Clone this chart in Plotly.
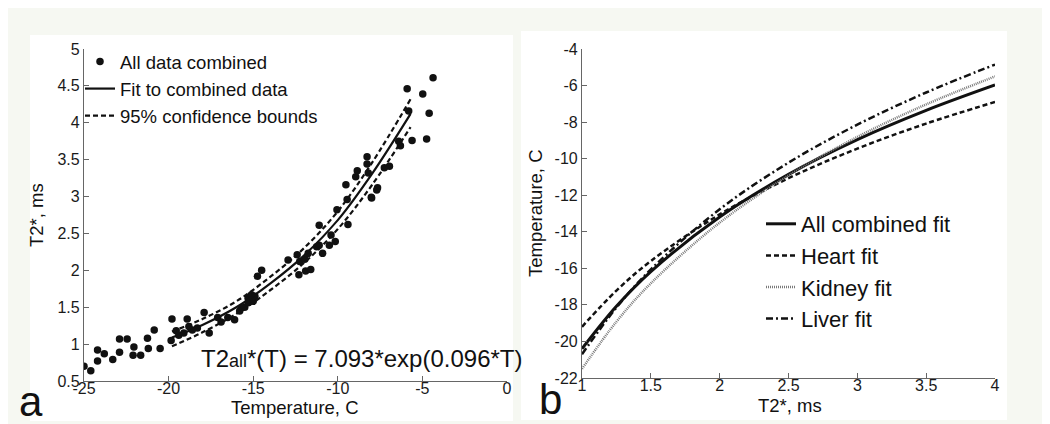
import plotly.graph_objects as go

# ---------------- data: panel a ----------------
temp_pts = [-25.0, -24.6, -24.2, -24.2, -23.8, -23.3, -22.9, -22.9, -22.45, -22.05,
            -22.1, -21.65, -21.25, -21.2, -20.85, -20.5,
            -19.8, -19.85, -19.55, -19.4, -19.1, -18.9, -18.8, -18.6, -18.3, -17.9,
            -17.6, -17.1, -16.9, -16.5, -16.1, -15.8, -15.7, -15.5, -15.3, -15.3,
            -15.1, -15.0, -14.9, -14.75, -14.5,
            -12.94, -12.4, -12.3, -12.25, -11.95, -11.9, -11.6, -11.75, -11.25, -11.1,
            -10.9, -10.5, -10.15, -10.4, -11.1, -9.4, -10.05, -9.45, -8.0, -7.7,
            -9.52, -8.94, -8.85, -8.27, -8.27, -8.2, -7.65, -8.02, -6.95, -7.25,
            -6.3, -6.4, -5.81, -5.9, -4.98, -4.37, -4.6, -5.61, -4.75]
t2_pts = [0.70, 0.64, 0.92, 0.77, 0.87, 0.79, 1.07, 0.89, 1.07, 0.96,
          0.85, 0.85, 1.08, 0.94, 1.19, 0.94,
          1.34, 1.05, 1.18, 1.12, 1.15, 1.34, 1.24, 1.19, 1.22, 1.43,
          1.15, 1.36, 1.30, 1.36, 1.33, 1.45, 1.49, 1.50, 1.62, 1.56,
          1.67, 1.58, 1.65, 1.92, 2.00,
          2.14, 2.21, 1.94, 2.12, 2.15, 1.99, 2.01, 2.23, 2.32, 2.34,
          2.23, 2.34, 2.39, 2.48, 2.61, 2.62, 2.82, 2.96, 2.98, 3.09,
          3.16, 3.27, 3.35, 3.54, 3.44, 3.32, 3.12, 2.99, 3.41, 3.39,
          3.69, 3.75, 4.16, 4.46, 4.39, 4.61, 4.13, 3.76, 3.78]

temp_fit = [-19.8, -18.0, -16.0, -14.0, -12.0, -10.0, -8.0, -5.7]
t2_fit = [1.09, 1.26, 1.50, 1.82, 2.20, 2.68, 3.30, 4.12]
t2_upper = [1.17, 1.34, 1.58, 1.91, 2.30, 2.80, 3.45, 4.32]
t2_lower = [0.97, 1.16, 1.41, 1.73, 2.10, 2.56, 3.15, 3.94]

x_ticks_a = [-25, -20, -15, -10, -5, 0]
x_ticklabels_a = ["-25", "-20", "-15", "-10", "-5", "0"]
y_ticks_a = [0.5, 1, 1.5, 2, 2.5, 3, 3.5, 4, 4.5, 5]
y_ticklabels_a = ["0.5", "1", "1.5", "2", "2.5", "3", "3.5", "4", "4.5", "5"]

# ---------------- data: panel b ----------------
t2_axis = [1.0, 1.25, 1.5, 2.0, 2.5, 3.0, 3.5, 4.0]
temp_all = [-20.4, -18.08, -16.18, -13.19, -10.86, -8.96, -7.36, -5.97]
temp_heart = [-19.2, -17.22, -15.6, -13.05, -11.07, -9.45, -8.08, -6.9]
temp_kidney = [-21.5, -18.92, -16.82, -13.5, -10.92, -8.81, -7.03, -5.5]
temp_liver = [-20.7, -18.15, -16.06, -12.77, -10.22, -8.14, -6.38, -4.85]

x_ticks_b = [1, 1.5, 2, 2.5, 3, 3.5, 4]
x_ticklabels_b = ["1", "1.5", "2", "2.5", "3", "3.5", "4"]
y_ticks_b = [-22, -20, -18, -16, -14, -12, -10, -8, -6, -4]
y_ticklabels_b = ["-22", "-20", "-18", "-16", "-14", "-12", "-10", "-8", "-6", "-4"]

# ---------------- layout helpers ----------------
W, H = 1050, 424
FONT = "Liberation Sans, Arial, sans-serif"


def px(x):
    return x / W


def py(y):
    return 1 - y / H


fig = go.Figure()

# panel a traces
fig.add_trace(go.Scatter(x=temp_pts, y=t2_pts, mode="markers", name="All data combined",
                         marker=dict(color="#111111", size=7.5), xaxis="x", yaxis="y",
                         legend="legend"))
fig.add_trace(go.Scatter(x=temp_fit, y=t2_fit, mode="lines", name="Fit to combined data",
                         line=dict(color="#111111", width=2.2, shape="spline"),
                         xaxis="x", yaxis="y", legend="legend"))
fig.add_trace(go.Scatter(x=temp_fit, y=t2_upper, mode="lines", name="95% confidence bounds",
                         line=dict(color="#111111", width=2.2, dash="5px,3px", shape="spline"),
                         xaxis="x", yaxis="y", legend="legend"))
fig.add_trace(go.Scatter(x=temp_fit, y=t2_lower, mode="lines", name="95% confidence bounds",
                         line=dict(color="#111111", width=2.2, dash="5px,3px", shape="spline"),
                         xaxis="x", yaxis="y", showlegend=False))

# panel b traces
fig.add_trace(go.Scatter(x=t2_axis, y=temp_all, mode="lines", name="All combined fit",
                         line=dict(color="#111111", width=3, shape="spline"),
                         xaxis="x2", yaxis="y2", legend="legend2"))
fig.add_trace(go.Scatter(x=t2_axis, y=temp_heart, mode="lines", name="Heart fit",
                         line=dict(color="#111111", width=2.5, dash="5px,3px", shape="spline"),
                         xaxis="x2", yaxis="y2", legend="legend2"))
fig.add_trace(go.Scatter(x=t2_axis, y=temp_kidney, mode="lines", name="Kidney fit",
                         line=dict(color="#7a7a7a", width=2.5, dash="1px,1px", shape="spline"),
                         xaxis="x2", yaxis="y2", legend="legend2"))
fig.add_trace(go.Scatter(x=t2_axis, y=temp_liver, mode="lines", name="Liver fit",
                         line=dict(color="#111111", width=2.5, dash="7px,3px,2px,3px", shape="spline"),
                         xaxis="x2", yaxis="y2", legend="legend2"))

axis_common = dict(showline=True, linecolor="#666666", linewidth=1.2, ticks="inside",
                   ticklen=5, tickcolor="#666666", showgrid=False, zeroline=False,
                   mirror=False, automargin=False,
                   tickfont=dict(family=FONT, size=16, color="#1a1a1a"))

fig.update_layout(
    width=W, height=H,
    margin=dict(l=0, r=0, t=0, b=0, autoexpand=False),
    paper_bgcolor="#f6f8f2", plot_bgcolor="rgba(0,0,0,0)",
    font=dict(family=FONT, color="#111111"),
    xaxis=dict(domain=[px(76), px(499)], range=[-25, 0], tickvals=x_ticks_a,
               ticktext=x_ticklabels_a, anchor="y", ticklabelstandoff=-7, **axis_common),
    yaxis=dict(domain=[py(373), py(41)], range=[0.5, 5], tickvals=y_ticks_a,
               ticktext=y_ticklabels_a, anchor="x", **axis_common),
    xaxis2=dict(domain=[px(574), px(987)], range=[1, 4], tickvals=x_ticks_b,
                ticktext=x_ticklabels_b, anchor="y2", ticklabelstandoff=-7, **axis_common),
    yaxis2=dict(domain=[py(370), py(41)], range=[-22, -4], tickvals=y_ticks_b,
                ticktext=y_ticklabels_b, anchor="x2", **axis_common),
    legend=dict(x=px(72), y=py(35), xanchor="left", yanchor="top", bgcolor="rgba(0,0,0,0)",
                borderwidth=0, itemwidth=30, font=dict(family=FONT, size=18.5, color="#111111"),
                tracegroupgap=0),
    legend2=dict(x=px(753), y=py(195), xanchor="left", yanchor="top", bgcolor="#ffffff",
                 borderwidth=0, itemwidth=30, font=dict(family=FONT, size=22, color="#111111"),
                 tracegroupgap=0),
    showlegend=True,
)

# white panel backgrounds
fig.add_shape(type="rect", xref="paper", yref="paper", x0=px(22), x1=px(505),
              y0=py(413), y1=py(27), fillcolor="#ffffff", line=dict(width=0), layer="below")
fig.add_shape(type="rect", xref="paper", yref="paper", x0=px(513), x1=px(999),
              y0=py(412), y1=py(23), fillcolor="#ffffff", line=dict(width=0), layer="below")

annots = [
    dict(text="Temperature, C", x=px(287), y=py(399), size=18.5, angle=0),
    dict(text="T2*, ms", x=px(28), y=py(207), size=18.5, angle=-90),
    dict(text="T2*, ms", x=px(782), y=py(397), size=18.5, angle=0),
    dict(text="Temperature, C", x=px(528), y=py(205), size=18.5, angle=-90),
    dict(text="a", x=px(23), y=py(393), size=42, angle=0),
    dict(text="b", x=px(542), y=py(391), size=42, angle=0),
    dict(text="T2<span style='font-size:18px'>all</span>*(T) = 7.093*exp(0.096*T)",
         x=px(354), y=py(350), size=24, angle=0),
]
for a in annots:
    fig.add_annotation(text=a["text"], x=a["x"], y=a["y"], xref="paper", yref="paper",
                       xanchor="center", yanchor="middle", showarrow=False,
                       textangle=a["angle"],
                       font=dict(family=FONT, size=a["size"], color="#111111"))

fig.write_html("out.html")
